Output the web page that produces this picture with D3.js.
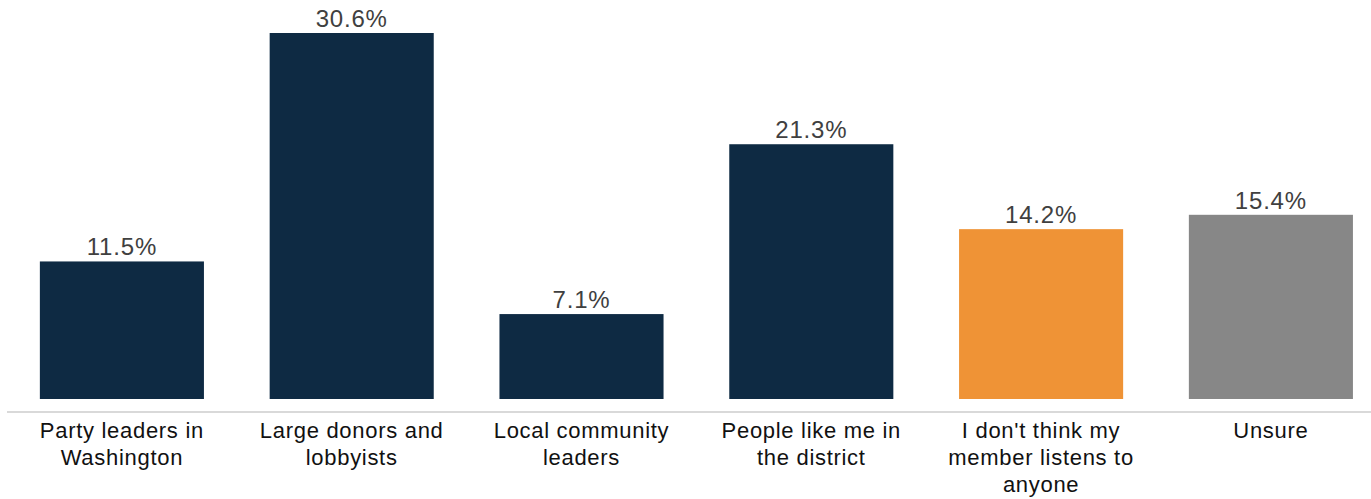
<!DOCTYPE html>
<html>
<head>
<meta charset="utf-8">
<script src="https://cdn.jsdelivr.net/npm/d3@7"></script>
<style>
  html, body { margin: 0; padding: 0; background: #fff; }
  svg { display: block; }
</style>
</head>
<body>
<svg id="chart" width="1371" height="499"></svg>
<script>
const categories = [
  ["Party leaders in", "Washington"],
  ["Large donors and", "lobbyists"],
  ["Local community", "leaders"],
  ["People like me in", "the district"],
  ["I don't think my", "member listens to", "anyone"],
  ["Unsure"]
];
const values = [11.5, 30.6, 7.1, 21.3, 14.2, 15.4];
const barColors = ["#0e2a43", "#0e2a43", "#0e2a43", "#0e2a43", "#ef9336", "#878787"];
const valueLabels = values.map(v => v.toFixed(1) + "%");

const svg = d3.select("#chart");
const width = 1371;
const baseY = 399;
const axisY = 412;

const ids = categories.map((c, i) => i);
const x = d3.scaleBand()
  .domain(ids)
  .range([7, 7 + 6 * 229.8])
  .paddingInner(0.286)
  .paddingOuter(0.143);

const y = d3.scaleLinear()
  .domain([0, 30.6])
  .range([baseY, 33]);

// bars
svg.selectAll("rect.bar")
  .data(values)
  .join("rect")
  .attr("class", "bar")
  .attr("x", (d, i) => x(i))
  .attr("width", x.bandwidth())
  .attr("y", d => y(d))
  .attr("height", d => baseY - y(d))
  .attr("fill", (d, i) => barColors[i]);

// axis line
svg.append("line")
  .attr("x1", 7).attr("x2", width)
  .attr("y1", axisY).attr("y2", axisY)
  .attr("stroke", "#d9d9d9")
  .attr("stroke-width", 2);

// value labels
svg.selectAll("text.val")
  .data(values)
  .join("text")
  .attr("class", "val")
  .attr("x", (d, i) => x(i) + x.bandwidth() / 2)
  .attr("y", d => y(d) - 6)
  .attr("text-anchor", "middle")
  .attr("font-family", "'Liberation Sans', Arial, sans-serif")
  .attr("font-size", 24)
  .attr("letter-spacing", 0.8)
  .attr("fill", "#404040")
  .text((d, i) => valueLabels[i]);

// category labels
const catG = svg.selectAll("text.cat")
  .data(categories)
  .join("text")
  .attr("class", "cat")
  .attr("text-anchor", "middle")
  .attr("font-family", "'Liberation Sans', Arial, sans-serif")
  .attr("font-size", 22)
  .attr("letter-spacing", 0.7)
  .attr("fill", "#111");

catG.each(function(lines, i) {
  const t = d3.select(this);
  lines.forEach((line, j) => {
    t.append("tspan")
      .attr("x", x(i) + x.bandwidth() / 2)
      .attr("y", 438 + j * 26.8)
      .text(line);
  });
});
</script>
</body>
</html>
